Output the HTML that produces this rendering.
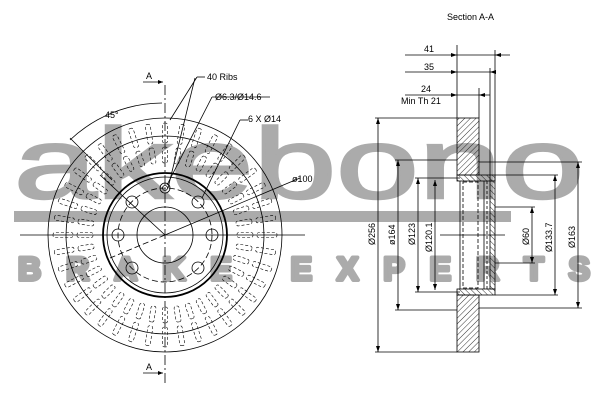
<!DOCTYPE html>
<html><head><meta charset="utf-8"><style>
html,body{margin:0;padding:0;background:#fff;}
svg{display:block}
text{font-family:"Liberation Sans",sans-serif;}
</style></head><body>
<svg width="600" height="400" viewBox="0 0 600 400" xmlns="http://www.w3.org/2000/svg">
<defs>
<pattern id="h" width="4" height="4" patternUnits="userSpaceOnUse" patternTransform="rotate(45)">
<line x1="0" y1="0" x2="0" y2="4" stroke="#000" stroke-width="0.8"/>
</pattern>
<pattern id="h2" width="4" height="4" patternUnits="userSpaceOnUse" patternTransform="rotate(-45)">
<line x1="0" y1="0" x2="0" y2="4" stroke="#000" stroke-width="0.8"/>
</pattern>
<g id="rb"><rect x="-2.5" y="-112" width="5" height="20" rx="2"/><rect x="-2.5" y="-88" width="5" height="16" rx="2"/></g>
</defs>
<!-- watermark behind -->
<g fill="#ababab">
<text x="14" y="198" font-size="100" textLength="570" lengthAdjust="spacingAndGlyphs" stroke="#ababab" stroke-width="2.5">akebono</text>
<rect x="14" y="211" width="497" height="11"/>
<text x="18" y="280" font-size="32" font-weight="bold" textLength="572" lengthAdjust="spacing" stroke="#ababab" stroke-width="4" stroke-linejoin="round">BRAKE EXPERTS</text>
</g>
<!-- front view -->
<g stroke="#000" fill="none" stroke-width="0.8">
<line x1="20" y1="235" x2="305" y2="235"/>
<line x1="165" y1="85" x2="165" y2="385" stroke-dasharray="10,3,2,3"/>
<circle cx="165" cy="235" r="117"/>
<circle cx="165" cy="235" r="99"/>
<circle cx="165" cy="235" r="62" stroke-width="1.8"/>
<circle cx="165" cy="235" r="58"/>
<circle cx="165" cy="235" r="28"/>
<circle cx="165" cy="235" r="47" stroke-dasharray="6,3"/>
<circle cx="165" cy="188" r="5"/><circle cx="165" cy="188" r="2.5"/>
<circle cx="132" cy="202" r="6"/><circle cx="198" cy="202" r="6"/>
<circle cx="118" cy="235" r="6"/><circle cx="212" cy="235" r="6"/>
<circle cx="132" cy="268" r="6"/><circle cx="198" cy="268" r="6"/>
<line x1="165" y1="235" x2="100" y2="175"/>
<line x1="165" y1="235" x2="300" y2="178"/>
<line x1="165" y1="235" x2="110" y2="258" stroke-dasharray="6,3"/>
<path d="M70 140 A135 135 0 0 1 162 103"/>
<line x1="70" y1="138" x2="112" y2="180"/>
<line x1="168" y1="188" x2="195" y2="78"/><line x1="170" y1="120" x2="197" y2="77"/>
<line x1="197" y1="77" x2="205" y2="77"/>
<line x1="167" y1="185" x2="212" y2="97"/><line x1="212" y1="97" x2="270" y2="97"/>
<line x1="202" y1="198" x2="240" y2="120"/><line x1="240" y1="120" x2="248" y2="120"/>
<line x1="143" y1="82" x2="163" y2="82"/><line x1="143" y1="373" x2="163" y2="373"/>
</g>
<g fill="#000">
<path d="M163 82 l-5 -2 v4z"/><path d="M163 373 l-5 -2 v4z"/>
</g>
<g stroke="#000" fill="none" stroke-width="0.6" stroke-dasharray="3,2" transform="translate(165 235)">
<use href="#rb" transform="rotate(0)"/><use href="#rb" transform="rotate(9)"/><use href="#rb" transform="rotate(18)"/><use href="#rb" transform="rotate(27)"/><use href="#rb" transform="rotate(36)"/><use href="#rb" transform="rotate(45)"/><use href="#rb" transform="rotate(54)"/><use href="#rb" transform="rotate(63)"/><use href="#rb" transform="rotate(72)"/><use href="#rb" transform="rotate(81)"/>
<use href="#rb" transform="rotate(90)"/><use href="#rb" transform="rotate(99)"/><use href="#rb" transform="rotate(108)"/><use href="#rb" transform="rotate(117)"/><use href="#rb" transform="rotate(126)"/><use href="#rb" transform="rotate(135)"/><use href="#rb" transform="rotate(144)"/><use href="#rb" transform="rotate(153)"/><use href="#rb" transform="rotate(162)"/><use href="#rb" transform="rotate(171)"/>
<use href="#rb" transform="rotate(180)"/><use href="#rb" transform="rotate(189)"/><use href="#rb" transform="rotate(198)"/><use href="#rb" transform="rotate(207)"/><use href="#rb" transform="rotate(216)"/><use href="#rb" transform="rotate(225)"/><use href="#rb" transform="rotate(234)"/><use href="#rb" transform="rotate(243)"/><use href="#rb" transform="rotate(252)"/><use href="#rb" transform="rotate(261)"/>
<use href="#rb" transform="rotate(270)"/><use href="#rb" transform="rotate(279)"/><use href="#rb" transform="rotate(288)"/><use href="#rb" transform="rotate(297)"/><use href="#rb" transform="rotate(306)"/><use href="#rb" transform="rotate(315)"/><use href="#rb" transform="rotate(324)"/><use href="#rb" transform="rotate(333)"/><use href="#rb" transform="rotate(342)"/><use href="#rb" transform="rotate(351)"/>
</g>
<g font-size="9" fill="#000">
<text x="146" y="79">A</text><text x="146" y="370">A</text>
<text x="207" y="80">40 Ribs</text>
<text x="215" y="100">Ø6.3/Ø14.6</text>
<text x="248" y="122">6 X Ø14</text>
<text x="292" y="182">ø100</text>
<text x="105" y="118">45°</text>
</g>
<!-- section view -->
<g stroke="#000" stroke-width="0.8" fill="none">
<rect x="457" y="118" width="22" height="57" fill="url(#h)"/>
<rect x="457" y="295" width="22" height="57" fill="url(#h)"/>
<rect x="457" y="175" width="38" height="6" fill="url(#h2)"/>
<rect x="457" y="289" width="38" height="6" fill="url(#h2)"/>
<rect x="490" y="181" width="5" height="108" fill="url(#h2)"/>
<line x1="460" y1="181" x2="460" y2="289"/>
<rect x="463" y="182" width="15" height="106" stroke-dasharray="4,2"/>
<line x1="484" y1="181" x2="484" y2="289"/>
<line x1="487" y1="181" x2="487" y2="289" stroke-dasharray="3,2"/>
<line x1="440" y1="235" x2="505" y2="235"/>
<line x1="405" y1="55" x2="510" y2="55"/>
<line x1="405" y1="72" x2="495" y2="72"/>
<line x1="405" y1="95" x2="490" y2="95"/>
<line x1="457" y1="45" x2="457" y2="118"/>
<line x1="495" y1="50" x2="495" y2="181"/>
<line x1="490" y1="68" x2="490" y2="181"/>
<line x1="479" y1="88" x2="479" y2="118"/>
<line x1="375" y1="118" x2="457" y2="118"/><line x1="375" y1="352" x2="457" y2="352"/>
<line x1="378" y1="118" x2="378" y2="352"/>
<line x1="395" y1="160" x2="457" y2="160"/><line x1="395" y1="310" x2="457" y2="310"/>
<line x1="398" y1="160" x2="398" y2="310"/>
<line x1="415" y1="178" x2="460" y2="178"/><line x1="415" y1="292" x2="460" y2="292"/>
<line x1="418" y1="178" x2="418" y2="292"/><line x1="435" y1="180" x2="435" y2="290"/>
<line x1="495" y1="207" x2="535" y2="207"/><line x1="495" y1="263" x2="535" y2="263"/>
<line x1="532" y1="207" x2="532" y2="263"/>
<line x1="495" y1="175" x2="558" y2="175"/><line x1="495" y1="295" x2="558" y2="295"/>
<line x1="555" y1="175" x2="555" y2="295"/>
<line x1="479" y1="162" x2="582" y2="162"/><line x1="479" y1="308" x2="582" y2="308"/>
<line x1="578" y1="162" x2="578" y2="308"/>
</g>
<g fill="#000">
<path d="M457 55 l-6 -2 v4z"/><path d="M495 55 l6 -2 v4z"/>
<path d="M457 72 l-6 -2 v4z"/><path d="M490 72 l6 -2 v4z"/>
<path d="M457 95 l-6 -2 v4z"/><path d="M479 95 l6 -2 v4z"/>
<path d="M378 118 l-2 6 h4z"/><path d="M378 352 l-2 -6 h4z"/>
<path d="M398 160 l-2 6 h4z"/><path d="M398 310 l-2 -6 h4z"/>
<path d="M418 178 l-2 6 h4z"/><path d="M418 292 l-2 -6 h4z"/>
<path d="M435 180 l-2 6 h4z"/><path d="M435 290 l-2 -6 h4z"/>
<path d="M532 207 l-2 6 h4z"/><path d="M532 263 l-2 -6 h4z"/>
<path d="M555 175 l-2 6 h4z"/><path d="M555 295 l-2 -6 h4z"/>
<path d="M578 162 l-2 6 h4z"/><path d="M578 308 l-2 -6 h4z"/>
</g>
<g font-size="9" fill="#000">
<text x="447" y="20">Section A-A</text>
<text x="424" y="52">41</text>
<text x="424" y="70">35</text>
<text x="421" y="92">24</text>
<text x="401" y="104">Min Th 21</text>
<g transform="translate(375 245) rotate(-90)"><text>Ø256</text></g>
<g transform="translate(395 245) rotate(-90)"><text>ø164</text></g>
<g transform="translate(415 245) rotate(-90)"><text>Ø123</text></g>
<g transform="translate(432 252) rotate(-90)"><text>Ø120.1</text></g>
<g transform="translate(529 245) rotate(-90)"><text>Ø60</text></g>
<g transform="translate(552 252) rotate(-90)"><text>Ø133.7</text></g>
<g transform="translate(575 248) rotate(-90)"><text>Ø163</text></g>
</g>
</svg>
</body></html>
